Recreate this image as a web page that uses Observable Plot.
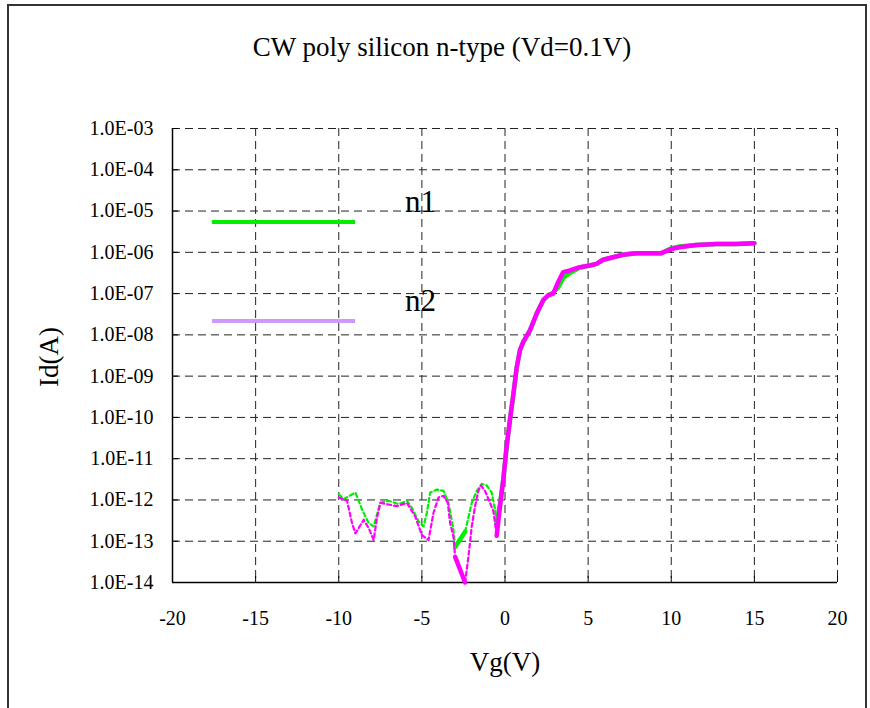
<!DOCTYPE html>
<html><head><meta charset="utf-8">
<script src="https://cdn.jsdelivr.net/npm/d3@7"></script>
<script src="https://cdn.jsdelivr.net/npm/@observablehq/plot@0.6"></script>
<style>
html,body{margin:0;padding:0;background:#fff;}
#wrap{position:relative;width:870px;height:708px;overflow:hidden;font-family:"Liberation Serif","Times New Roman",serif;}
#border{position:absolute;left:7px;top:4px;width:860px;height:730px;border:2px solid #333;box-sizing:border-box;pointer-events:none;}
#chart{position:absolute;left:0;top:0;}
#overlay{position:absolute;left:0;top:0;}
</style></head><body>
<div id="wrap"><div id="chart"></div><div id="border"></div></div>
<script>
// ---- data ----
const title = "CW poly silicon n-type (Vd=0.1V)";
const xLabel = "Vg(V)";
const yLabel = "Id(A)";
const seriesNames = ["n1", "n2"];
const xTicks = [-20, -15, -10, -5, 0, 5, 10, 15, 20];
const xTickLabels = ["-20", "-15", "-10", "-5", "0", "5", "10", "15", "20"];
const yTicks = [1e-3, 1e-4, 1e-5, 1e-6, 1e-7, 1e-8, 1e-9, 1e-10, 1e-11, 1e-12, 1e-13, 1e-14];
const yTickLabels = ["1.0E-03","1.0E-04","1.0E-05","1.0E-06","1.0E-07","1.0E-08","1.0E-09","1.0E-10","1.0E-11","1.0E-12","1.0E-13","1.0E-14"];

const n1Vg = [-10, -9.7, -9.0, -8.6, -8.2, -7.9, -7.5, -7.0, -6.4, -5.9, -5.6, -5.2, -4.9, -4.7, -4.5, -4.1, -3.7, -3.4, -3.1, -3.0, -2.4, -2.0, -1.7, -1.4, -1.1, -0.8, -0.6,
  -0.5, -0.3, -0.1, 0.1, 0.3, 0.5, 0.7, 0.9, 1.1, 1.5, 1.9, 2.3, 2.6, 2.9, 3.2, 3.5, 3.9, 4.5, 5.1, 5.5, 5.9, 6.5, 7.1, 7.9, 9.4, 10.0, 10.5, 11.5, 12.7, 13.9, 15.0];
const n1Id = [1.38e-12, 1.05e-12, 1.51e-12, 5.89e-13, 2.75e-13, 2.29e-13, 8.51e-13, 9.55e-13, 7.94e-13, 9.55e-13, 6.46e-13, 3.02e-13, 2.29e-13, 4.90e-13, 1.51e-12, 1.78e-12, 1.66e-12, 8.51e-13, 1.91e-13, 7.24e-14, 1.70e-13, 8.51e-13, 1.66e-12, 2.45e-12, 2.24e-12, 1.51e-12, 5.89e-13,
  2.75e-13, 7.94e-13, 3.16e-12, 2.0e-11, 8.91e-11, 3.55e-10, 1.58e-9, 4.27e-9, 6.76e-9, 1.29e-8, 3.24e-8, 6.92e-8, 9.12e-8, 1.05e-7, 1.41e-7, 2.40e-7, 3.16e-7, 4.27e-7, 4.79e-7, 5.25e-7, 6.61e-7, 7.59e-7, 8.71e-7, 9.55e-7, 9.55e-7, 1.26e-6, 1.38e-6, 1.51e-6, 1.58e-6, 1.58e-6, 1.66e-6];

const n2Vg = [-10, -9.5, -9.2, -9.0, -8.8, -8.5, -8.2, -7.9, -7.7, -7.5, -7.0, -6.5, -5.9, -5.4, -5.0, -4.6, -4.3, -4.0, -3.7, -3.44, -3.3, -3.1, -3.0, -2.4, -2.2, -2.0, -1.8, -1.6, -1.44, -1.2, -0.9, -0.7, -0.6,
  -0.5, -0.3, -0.1, 0.1, 0.3, 0.5, 0.7, 0.9, 1.1, 1.5, 1.9, 2.3, 2.6, 2.9, 3.2, 3.5, 3.9, 4.5, 5.1, 5.5, 5.9, 6.5, 7.1, 7.9, 9.4, 10.0, 10.5, 11.5, 12.7, 13.9, 15.0];
const n2Id = [1.15e-12, 9.55e-13, 2.75e-13, 1.55e-13, 2.09e-13, 3.31e-13, 2.09e-13, 1.07e-13, 3.63e-13, 8.51e-13, 7.76e-13, 7.08e-13, 8.51e-13, 3.98e-13, 1.41e-13, 1.07e-13, 4.90e-13, 1.15e-12, 1.26e-12, 8.51e-13, 2.75e-13, 1.29e-13, 4.17e-14, 1.0e-14, 4.17e-14, 2.29e-13, 7.08e-13, 1.66e-12, 2.24e-12, 1.66e-12, 8.51e-13, 5.37e-13, 2.75e-13,
  1.35e-13, 7.08e-13, 3.16e-12, 2.0e-11, 8.91e-11, 3.55e-10, 1.58e-9, 4.27e-9, 6.76e-9, 1.29e-8, 3.24e-8, 6.92e-8, 9.12e-8, 1.0e-7, 1.91e-7, 3.31e-7, 3.63e-7, 4.37e-7, 4.79e-7, 5.25e-7, 6.61e-7, 7.59e-7, 8.71e-7, 9.55e-7, 9.55e-7, 1.20e-6, 1.32e-6, 1.51e-6, 1.58e-6, 1.58e-6, 1.66e-6];

// Vg ranges where each series is drawn as a solid line (dashed elsewhere)
const n1SolidRanges = [[-3.0, -2.4], [-0.5, 15]];
const n2SolidRanges = [[-3.0, -2.4], [-0.5, 15]];

// ---- build runs of solid / dashed segments ----
function buildRuns(name, vg, id, ranges) {
  const inR = v => ranges.some(([a, b]) => v >= a - 1e-9 && v <= b + 1e-9);
  const rows = [];
  let run = -1, prevStyle = null;
  for (let i = 0; i < vg.length - 1; i++) {
    const style = inR(vg[i]) && inR(vg[i + 1]) ? "solid" : "dash";
    if (style !== prevStyle) {
      run++; prevStyle = style;
      rows.push({series: name, run: name + run, style, vg: vg[i], id: id[i]});
    }
    rows.push({series: name, run: name + run, style, vg: vg[i + 1], id: id[i + 1]});
  }
  return rows;
}
const n1Rows = buildRuns("n1", n1Vg, n1Id, n1SolidRanges);
const n2Rows = buildRuns("n2", n2Vg, n2Id, n2SolidRanges);

const green = "#00ee00", magenta = "#ff00ff", lavender = "#cc99ff";
const gridStyle = {stroke: "#222", strokeOpacity: 1, strokeWidth: 1, strokeDasharray: "8,5"};

const chart = Plot.plot({
  width: 870, height: 708,
  marginLeft: 172, marginRight: 33, marginTop: 128, marginBottom: 126,
  style: {fontFamily: '"Liberation Serif","Times New Roman",serif', fontSize: "20px", color: "#000", background: "transparent"},
  x: {domain: [-20, 20]},
  y: {type: "log", domain: [1e-14, 1e-3]},
  marks: [
    Plot.gridX(xTicks.slice(1), {...gridStyle}),
    Plot.gridY(yTicks.slice(0, -1), {...gridStyle}),
    Plot.axisX(xTicks, {tickSize: -6, tickPadding: 34, fontSize: 20, label: null, stroke: "#000",
      tickFormat: d => xTickLabels[xTicks.indexOf(d)]}),
    Plot.axisY(yTicks, {tickSize: -6, tickPadding: 25, fontSize: 20, label: null, stroke: "#000",
      tickFormat: d => yTickLabels[yTicks.findIndex(t => Math.abs(Math.log10(t) - Math.log10(d)) < 1e-6)]}),
    Plot.ruleX([-20], {stroke: "#000", strokeWidth: 1.5}),
    Plot.ruleY([1e-14], {stroke: "#000", strokeWidth: 1.5}),
    // n1 (green)
    Plot.line(n1Rows.filter(d => d.style === "dash"), {x: "vg", y: "id", z: "run", stroke: green, strokeWidth: 2.2, strokeDasharray: "4,3"}),
    Plot.line(n1Rows.filter(d => d.style === "solid"), {x: "vg", y: "id", z: "run", stroke: green, strokeWidth: 4.5, strokeLinecap: "round", strokeLinejoin: "round"}),
    // n2 (magenta)
    Plot.line(n2Rows.filter(d => d.style === "dash"), {x: "vg", y: "id", z: "run", stroke: magenta, strokeWidth: 2.2, strokeDasharray: "4,3"}),
    Plot.line(n2Rows.filter(d => d.style === "solid"), {x: "vg", y: "id", z: "run", stroke: magenta, strokeWidth: 4.5, strokeLinecap: "round", strokeLinejoin: "round"})
  ]
});
document.getElementById("chart").appendChild(chart);

// ---- overlay: title, axis titles, legend ----
const NS = "http://www.w3.org/2000/svg";
const ov = document.createElementNS(NS, "svg");
ov.setAttribute("id", "overlay");
ov.setAttribute("width", 870); ov.setAttribute("height", 708);
ov.setAttribute("font-family", '"Liberation Serif","Times New Roman",serif');
function txt(s, x, y, size, anchor, rot) {
  const t = document.createElementNS(NS, "text");
  t.textContent = s;
  t.setAttribute("x", x); t.setAttribute("y", y);
  t.setAttribute("font-size", size);
  t.setAttribute("text-anchor", anchor || "start");
  t.setAttribute("fill", "#000");
  if (rot) t.setAttribute("transform", `rotate(${rot},${x},${y})`);
  ov.appendChild(t);
}
function seg(x1, x2, y, color) {
  const l = document.createElementNS(NS, "line");
  l.setAttribute("x1", x1); l.setAttribute("x2", x2);
  l.setAttribute("y1", y); l.setAttribute("y2", y);
  l.setAttribute("stroke", color); l.setAttribute("stroke-width", 4);
  ov.appendChild(l);
}
txt(title, 442, 56, 27, "middle");
txt(xLabel, 505, 671, 27, "middle");
txt(yLabel, 58, 357, 27, "middle", -90);
seg(212, 355, 222, green);
txt(seriesNames[0], 405, 212, 31, "start");
seg(212, 355, 321, lavender);
txt(seriesNames[1], 405, 311, 31, "start");
document.getElementById("wrap").appendChild(ov);
</script>
</body></html>
